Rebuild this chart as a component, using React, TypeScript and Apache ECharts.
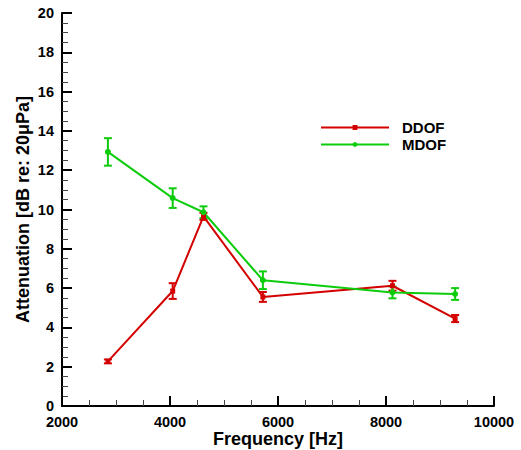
import React, { useEffect, useRef } from "react";
import * as echarts from "echarts";

const frequencies = [2850, 4050, 4620, 5720, 8120, 9280];
const ddofValues = [2.27, 5.85, 9.65, 5.55, 6.12, 4.45];
const ddofErrors = [0.1, 0.4, 0.18, 0.25, 0.25, 0.18];
const mdofValues = [12.93, 10.58, 9.86, 6.4, 5.78, 5.7];
const mdofErrors = [0.7, 0.5, 0.3, 0.45, 0.3, 0.3];

const RED = "#d40000";
const GREEN = "#0ccc0c";

function errorSeries(name: string, values: number[], errors: number[], color: string) {
  const data = frequencies.map((f, i) => [f, values[i] - errors[i], values[i] + errors[i]]);
  return {
    type: "custom",
    name: name + "_err",
    silent: true,
    z: 3,
    data,
    encode: { x: 0, y: [1, 2] },
    renderItem: (params: any, api: any) => {
      const x = api.value(0);
      const lo = api.coord([x, api.value(1)]);
      const hi = api.coord([x, api.value(2)]);
      const hw = 4;
      const style = { stroke: color, lineWidth: 2, fill: "none" };
      return {
        type: "group",
        children: [
          { type: "line", shape: { x1: lo[0], y1: lo[1], x2: hi[0], y2: hi[1] }, style },
          { type: "line", shape: { x1: lo[0] - hw, y1: lo[1], x2: lo[0] + hw, y2: lo[1] }, style },
          { type: "line", shape: { x1: hi[0] - hw, y1: hi[1], x2: hi[0] + hw, y2: hi[1] }, style },
        ],
      };
    },
  };
}

export default function App() {
  const ref = useRef<HTMLDivElement>(null);
  useEffect(() => {
    if (!ref.current) return;
    const chart = echarts.init(ref.current, null, { renderer: "svg" });
    const font = "'Liberation Sans', Arial, sans-serif";
    chart.setOption({
      animation: false,
      backgroundColor: "#ffffff",
      grid: { left: 62, right: 27, top: 13, bottom: 44, outerBoundsMode: "none" },
      legend: {
        orient: "vertical",
        left: 320,
        top: 120,
        padding: 0,
        itemWidth: 68,
        itemHeight: 6,
        itemGap: 2,
        data: ["DDOF", "MDOF"],
        textStyle: {
          fontFamily: font,
          fontWeight: "bold",
          fontSize: 15,
          color: "#000",
          padding: [0, 0, 0, 8],
        },
      },
      xAxis: {
        type: "value",
        min: 2000,
        max: 10000,
        interval: 2000,
        name: "Frequency [Hz]",
        nameLocation: "middle",
        nameGap: 24,
        nameMoveOverlap: false,
        nameTextStyle: { fontFamily: font, fontWeight: "bold", fontSize: 18, lineHeight: 18, color: "#000" },
        axisLine: { lineStyle: { color: "#000", width: 2 } },
        axisTick: { inside: true, length: 10, lineStyle: { color: "#000", width: 2 } },
        minorTick: { show: true, splitNumber: 4, length: 6, lineStyle: { color: "#444", width: 1 } },
        axisLabel: {
          fontFamily: font,
          fontWeight: "bold",
          fontSize: 14.5,
          lineHeight: 14,
          color: "#000",
          margin: 9,
          formatter: (v: number) => String(v),
        },
        splitLine: { show: false },
      },
      yAxis: {
        type: "value",
        min: 0,
        max: 20,
        interval: 2,
        name: "Attenuation [dB re: 20μPa]",
        nameLocation: "middle",
        nameGap: 30,
        nameMoveOverlap: false,
        nameTextStyle: { fontFamily: font, fontWeight: "bold", fontSize: 18, color: "#000" },
        axisLine: { lineStyle: { color: "#000", width: 2 } },
        axisTick: { inside: true, length: 10, lineStyle: { color: "#000", width: 2 } },
        minorTick: { show: true, splitNumber: 4, length: 6, lineStyle: { color: "#444", width: 1 } },
        axisLabel: {
          fontFamily: font,
          fontWeight: "bold",
          fontSize: 14.5,
          color: "#000",
          margin: 8,
          formatter: (v: number) => String(v),
        },
        splitLine: { show: false },
      },
      series: [
        {
          type: "line",
          name: "DDOF",
          data: frequencies.map((f, i) => [f, ddofValues[i]]),
          symbol: "rect",
          symbolSize: 5,
          lineStyle: { color: RED, width: 2 },
          itemStyle: { color: RED },
          z: 4,
        },
        {
          type: "line",
          name: "MDOF",
          data: frequencies.map((f, i) => [f, mdofValues[i]]),
          symbol: "circle",
          symbolSize: 6,
          lineStyle: { color: GREEN, width: 2 },
          itemStyle: { color: GREEN },
          z: 4,
        },
        errorSeries("DDOF", ddofValues, ddofErrors, RED),
        errorSeries("MDOF", mdofValues, mdofErrors, GREEN),
      ],
    });
    return () => chart.dispose();
  }, []);
  return (
    <div
      ref={ref}
      style={{ position: "fixed", left: 0, top: 0, width: 521, height: 450, background: "#fff" }}
    />
  );
}
